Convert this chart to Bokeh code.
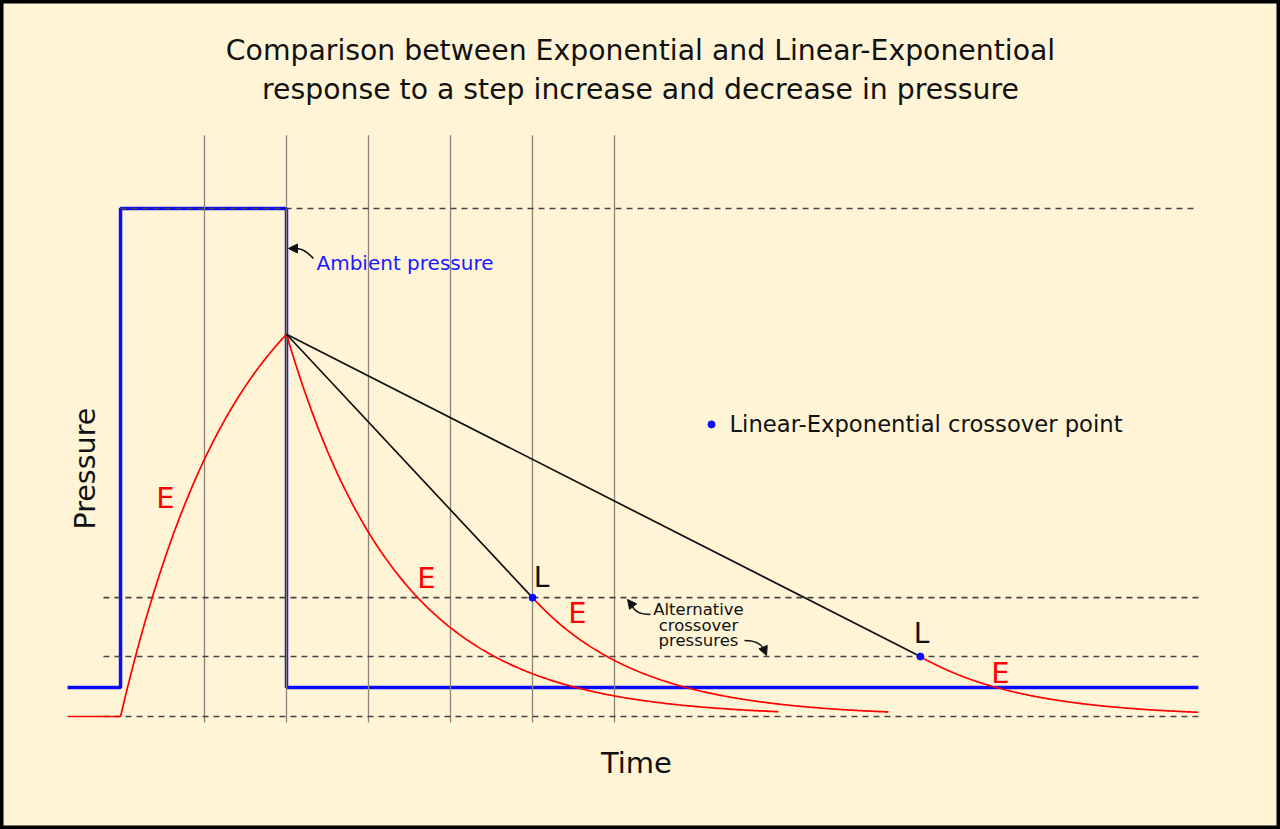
import numpy as np
from bokeh.plotting import figure
from bokeh.models import Range1d, Label, Arrow, NormalHead
from bokeh.embed import file_html
from bokeh.resources import INLINE

# ---- data (time units / pressure units) ----
grid_times = [1, 2, 3, 4, 5, 6]
t_start, t_end = -0.67, 13.12
t_step_up, t_step_down = -0.024, 2.0
p_high = 1.0
p_ambient_low = 0.057
p_tissue_start = 0.0
tau_rise = 1.45
crossover_levels = [0.234, 0.118]
crossover_times = [5.0, 9.73]
tau_decay_pure = 1.37
tau_decay_le = [1.33, 1.28]
end_pure = 8.0
end_le = [9.34, 13.12]

title_lines = ["Comparison between Exponential and Linear-Exponentioal",
               "response to a step increase and decrease in pressure"]

FONT = "DejaVu Sans"
BG = "#fff5d6"

p = figure(width=1280, height=829, output_backend="svg", toolbar_location=None,
           x_axis_type=None, y_axis_type=None,
           x_range=Range1d(-1.4878, 14.122), y_range=Range1d(-0.2224, 1.4094),
           min_border=0, min_border_left=0, min_border_right=0,
           min_border_top=0, min_border_bottom=0)
p.grid.visible = False
p.background_fill_color = BG
p.border_fill_color = BG
p.outline_line_color = "black"
p.outline_line_width = 6

# ambient pressure (blue step)
bx = [t_start, t_step_up, t_step_up, t_step_down, t_step_down, t_end]
by = [p_ambient_low, p_ambient_low, p_high, p_high, p_ambient_low, p_ambient_low]
p.line(bx, by, line_color="#0a0aff", line_width=3.5)

# vertical time grid
for t in grid_times:
    p.line([t, t], [1.144, -0.012], line_color="#8a8478", line_width=1.3)

# dashed pressure levels
dash_col = "#444444"
p.line([t_step_up, t_end], [p_high, p_high], line_color=dash_col, line_width=1.6, line_dash="6 5")
for lev in crossover_levels + [p_tissue_start]:
    p.line([-0.232, t_end], [lev, lev], line_color=dash_col, line_width=1.6, line_dash="6 5")

# exponential rise
tr = np.linspace(t_step_up, t_step_down, 200)
rise = p_high - (p_high - p_tissue_start) * np.exp(-(tr - t_step_up) / tau_rise)
p_peak = rise[-1]
p.line([t_start, t_step_up], [p_tissue_start, p_tissue_start], line_color="red", line_width=1.7)
p.line(tr, rise, line_color="red", line_width=1.7)

# pure exponential decay
td = np.linspace(t_step_down, end_pure, 300)
p.line(td, p_peak * np.exp(-(td - t_step_down) / tau_decay_pure), line_color="red", line_width=1.7)

# linear-exponential
for tc, pc, tau, te in zip(crossover_times, crossover_levels, tau_decay_le, end_le):
    p.line([t_step_down, tc], [p_peak, pc], line_color="#111111", line_width=1.7)
    tt = np.linspace(tc, te, 300)
    p.line(tt, pc * np.exp(-(tt - tc) / tau), line_color="red", line_width=1.7)
p.scatter(crossover_times, crossover_levels, size=7, color="#0a0aff")

# legend dot
p.scatter([7.183], [0.575], size=7, color="#0a0aff")
p.add_layout(Label(x=7.402, y=0.575, text="Linear-Exponential crossover point",
                   text_font=FONT, text_font_size="22.7px", text_color="#111111",
                   text_baseline="middle", text_align="left"))

# titles and axis labels
for i, line in enumerate(title_lines):
    p.add_layout(Label(x=6.317, y=[1.311, 1.234][i], text=line, text_font=FONT,
                       text_font_size="28.3px", text_color="#111111",
                       text_align="center", text_baseline="middle"))
p.add_layout(Label(x=-0.451, y=0.488, text="Pressure", angle=np.pi / 2, text_font=FONT,
                   text_font_size="28.5px", text_color="#111111",
                   text_align="center", text_baseline="middle"))
p.add_layout(Label(x=6.268, y=-0.0906, text="Time", text_font=FONT,
                   text_font_size="29px", text_color="#111111",
                   text_align="center", text_baseline="middle"))

# E / L labels
for (x, y) in [(0.524, 0.431), (3.707, 0.2717), (5.549, 0.2047), (10.707, 0.0866)]:
    p.add_layout(Label(x=x, y=y, text="E", text_font=FONT, text_font_size="29px",
                       text_color="red", text_align="center", text_baseline="middle"))
for (x, y) in [(5.11, 0.2736), (9.744, 0.1634)]:
    p.add_layout(Label(x=x, y=y, text="L", text_font=FONT, text_font_size="28px",
                       text_color="#111111", text_align="center", text_baseline="middle"))

# ambient pressure annotation
p.add_layout(Label(x=2.366, y=0.892, text="Ambient pressure", text_font=FONT,
                   text_font_size="20px", text_color="#1a1aff",
                   text_align="left", text_baseline="middle"))
p.bezier(x0=[2.329], y0=[0.9016], x1=[2.098], y1=[0.9213], cx0=[2.207], cy0=[0.9213],
         cx1=[2.16], cy1=[0.9213], line_color="#111111", line_width=1.5)
p.add_layout(Arrow(x_start=2.098, y_start=0.9213, x_end=2.024, y_end=0.9213,
                   line_color="#111111", line_width=1.5,
                   end=NormalHead(size=9, fill_color="#111111", line_color="#111111")))

# alternative crossover annotation
for y, txt in zip([0.2106, 0.179, 0.1496], ["Alternative", "crossover", "pressures"]):
    p.add_layout(Label(x=7.024, y=y, text=txt, text_font=FONT, text_font_size="16.5px",
                       text_color="#111111", text_align="center", text_baseline="middle"))
p.bezier(x0=[6.439], y0=[0.2008], x1=[6.207], y1=[0.2205], cx0=[6.30], cy0=[0.2008],
         cx1=[6.23], cy1=[0.2100], line_color="#111111", line_width=1.5)
p.add_layout(Arrow(x_start=6.207, y_start=0.2205, x_end=6.159, y_end=0.2303,
                   line_color="#111111", line_width=1.5,
                   end=NormalHead(size=9, fill_color="#111111", line_color="#111111")))
p.bezier(x0=[7.585], y0=[0.1496], x1=[7.829], y1=[0.1299], cx0=[7.72], cy0=[0.1496],
         cx1=[7.80], cy1=[0.1420], line_color="#111111", line_width=1.5)
p.add_layout(Arrow(x_start=7.829, y_start=0.1299, x_end=7.854, y_end=0.1201,
                   line_color="#111111", line_width=1.5,
                   end=NormalHead(size=9, fill_color="#111111", line_color="#111111")))

open("out.html", "w").write(file_html(p, INLINE))
